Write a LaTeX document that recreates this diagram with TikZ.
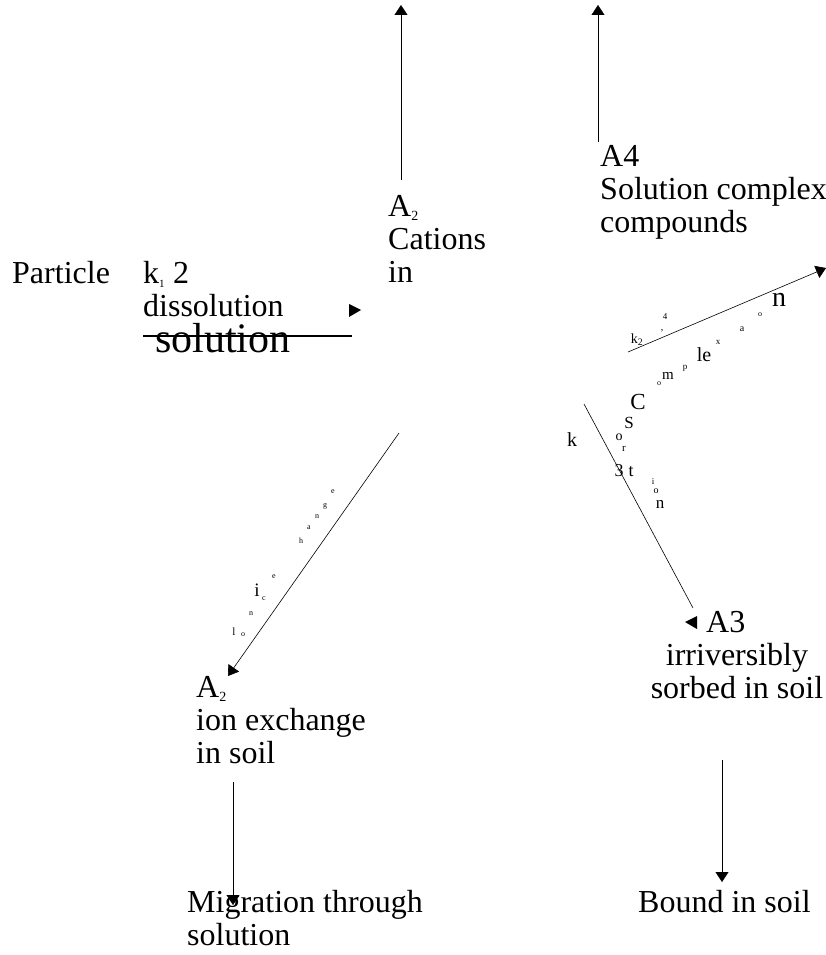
\documentclass[tikz,border=0pt]{standalone}
\usepackage{fontspec}
\setmainfont{Liberation Serif}
\usetikzlibrary{arrows.meta}

\newcommand{\lowsub}[1]{\textsubscript{\fontsize{14}{14}\selectfont #1}}

\begin{document}
\begin{tikzpicture}[x=1pt,y=-1pt,>={Triangle[length=10pt,width=13pt]},
  txt/.style={inner sep=0pt,align=left,anchor=north west,font=\fontsize{32}{33}\selectfont},
  frag/.style={inner sep=0pt,font=\fontsize{#1}{#1}\selectfont}]
  \useasboundingbox (0,0) rectangle (825,955);
  % text blocks
  \node[txt] (A4) at (600,145) {A4\\Solution complex\\compounds};
  \node[txt] (A2c) at (388,195) {A\lowsub{2}\\Cations\\in};
  \node[txt] (part) at (12,261) {Particle};
  \node[txt] (k1) at (143,261) {k\textsubscript{\fontsize{11}{11}\selectfont 1} 2\\dissolution};
  \node[frag=42,anchor=base west] (sol) at (155,352) {solution};
  \node[txt] (A2i) at (196,676) {A\lowsub{2}\\ion exchange\\in soil};
  \node[txt] (migr) at (187,890) {Migration through\\solution};
  \node[txt] (A3) at (706,611) {A3};
  \node[txt,align=center,anchor=north] (irr) at (737,643) {irriversibly\\sorbed in soil};
  \node[txt] (bound) at (638,890) {Bound in soil};
  % line ends
  \coordinate (u1a) at (401,180); \coordinate (u1b) at (401,5);
  \coordinate (u2a) at (598,142); \coordinate (u2b) at (598,5);
  \coordinate (s1) at (143,336);  \coordinate (s2) at (352,336);
  \coordinate (ia) at (399,433);  \coordinate (ib) at (228,676);
  \coordinate (da) at (233,782);  \coordinate (db) at (233,905);
  \coordinate (ca) at (628,352);  \coordinate (cb) at (826,268);
  \coordinate (sa) at (584,404);  \coordinate (sb) at (693,608);
  \coordinate (ba) at (722,760);  \coordinate (bb) at (722,882);
  \draw[->] (u1a)--(u1b);
  \draw[->] (u2a)--(u2b);
  \draw[line width=1.6pt] (s1)--(s2);
  \draw[->,line width=0.6pt] (ia)--(ib);
  \draw[->] (da)--(db);
  \draw[->,line width=0.6pt] (ca)--(cb);
  \draw[line width=0.6pt] (sa)--(sb);
  \draw[->] (ba)--(bb);
  % loose arrow heads
  \fill (349,304)--(361,310)--(349,317)--cycle;
  \fill (685,622)--(697,616)--(697,629)--cycle;
  % scattered letters
  \foreach \c/\x/\y/\s [count=\i] in {l/234/632/11,o/243/635/8,n/251/614/8,i/257/590/19,
      c/264/599/8,e/274/577/8,h/301/541/8,a/309/528/8,n/317/517/8,g/325/506/8,e/333/492/8}
    \node[frag=\s] (ion\i) at (\x,\y) {\c};
  \foreach \c/\x/\y/\s [count=\i] in {k\textsubscript{2}/637/340/14,4/665/317/9,{,}/662/331/10,
      n/779/300/28,o/760/315/8,a/742/329/10,x/718/342/9,le/704/355/20,p/685/368/9,
      m/668/376/15,o/659/384/8,C/638/402/23,S/629/423/17,o/619/437/14,r/624/449/11,
      3/619/471/18,t/631/472/18,i/653/482/9,o/656/491/10,n/660/504/17,k/572/440/20}
    \node[frag=\s] (cx\i) at (\x,\y) {\c};
\end{tikzpicture}
\end{document}
